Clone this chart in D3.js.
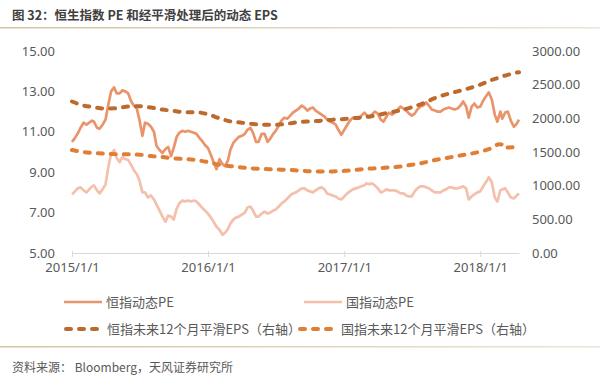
<!DOCTYPE html>
<html><head><meta charset="utf-8">
<script src="https://cdn.jsdelivr.net/npm/d3@7"></script>
<style>
body{margin:0;background:#fff;}
svg{display:block;font-family:"Noto Sans","Noto Sans CJK SC",sans-serif;}
</style></head>
<body><svg id="c" width="600" height="380"></svg>
<script>
// ---- data ----
const peDates = [
"2015-01-01","2015-01-09","2015-01-16","2015-01-24","2015-02-01","2015-02-09","2015-02-16","2015-02-24",
"2015-03-01","2015-03-09","2015-03-16","2015-03-24","2015-04-01","2015-04-09","2015-04-16","2015-04-24",
"2015-05-01","2015-05-09","2015-05-16","2015-05-24","2015-06-01","2015-06-09","2015-06-16","2015-06-24",
"2015-07-01","2015-07-09","2015-07-16","2015-07-24","2015-08-01","2015-08-09","2015-08-16","2015-08-24",
"2015-09-01","2015-09-09","2015-09-16","2015-09-24","2015-10-01","2015-10-09","2015-10-16","2015-10-24",
"2015-11-01","2015-11-09","2015-11-16","2015-11-24","2015-12-01","2015-12-09","2015-12-16","2015-12-24",
"2016-01-01","2016-01-09","2016-01-16","2016-01-24","2016-02-01","2016-02-09","2016-02-16","2016-02-24",
"2016-03-01","2016-03-09","2016-03-16","2016-03-24","2016-04-01","2016-04-09","2016-04-16","2016-04-24",
"2016-05-01","2016-05-09","2016-05-16","2016-05-24","2016-06-01","2016-06-09","2016-06-16","2016-06-24",
"2016-07-01","2016-07-09","2016-07-16","2016-07-24","2016-08-01","2016-08-09","2016-08-16","2016-08-24",
"2016-09-01","2016-09-09","2016-09-16","2016-09-24","2016-10-01","2016-10-09","2016-10-16","2016-10-24",
"2016-11-01","2016-11-09","2016-11-16","2016-11-24","2016-12-01","2016-12-09","2016-12-16","2016-12-24",
"2017-01-01","2017-01-09","2017-01-16","2017-01-24","2017-02-01","2017-02-09","2017-02-16","2017-02-24",
"2017-03-01","2017-03-09","2017-03-16","2017-03-24","2017-04-01","2017-04-09","2017-04-16","2017-04-24",
"2017-05-01","2017-05-09","2017-05-16","2017-05-24","2017-06-01","2017-06-09","2017-06-16","2017-06-24",
"2017-07-01","2017-07-09","2017-07-16","2017-07-24","2017-08-01","2017-08-09","2017-08-16","2017-08-24",
"2017-09-01","2017-09-09","2017-09-16","2017-09-24","2017-10-01","2017-10-09","2017-10-16","2017-10-24",
"2017-11-01","2017-11-09","2017-11-16","2017-11-24","2017-12-01","2017-12-09","2017-12-16","2017-12-24",
"2018-01-01","2018-01-09","2018-01-16","2018-01-24","2018-02-01","2018-02-09","2018-02-16","2018-02-24",
"2018-03-01","2018-03-09","2018-03-16","2018-03-24","2018-04-01","2018-04-09","2018-04-15"];
const hsiPE = [
10.5,10.7,10.9,11.2, 11.45,11.35,11.45,11.55, 11.5,11.2,11.15,11.35, 11.6,12.4,13.0,13.2,
12.9,12.9,13.05,13.0, 12.9,12.5,12.3,12.15, 11.6,10.8,11.45,11.4, 11.25,11.0,10.3,10.1,
9.95,10.15,10.25,9.8, 10.2,10.75,10.95,11.05, 11.0,11.05,11.0,10.95, 10.9,10.7,10.55,10.35,
10.2,9.85,9.5,9.15, 9.65,9.4,9.3,9.6, 10.1,10.45,10.6,10.75, 10.8,10.9,11.1,11.2,
10.95,10.5,10.5,10.9, 10.9,10.5,10.65,10.9, 11.05,11.3,11.55,11.7, 11.65,11.8,11.95,12.05,
12.15,12.3,12.2,12.05, 12.15,12.2,12.05,11.95, 11.85,11.75,11.6,11.5, 11.45,11.35,11.1,10.85,
11.1,11.35,11.55,11.7, 11.65,11.65,11.8,11.95, 11.85,11.7,11.85,12.0, 11.9,11.6,11.5,11.75,
11.95,11.85,11.95,12.1, 12.25,12.15,12.05,11.9, 11.8,11.9,12.1,12.25, 12.3,12.45,12.3,12.1,
12.05,12.0,12.0,12.1, 12.15,12.2,12.15,12.1, 12.15,12.3,12.5,12.25, 11.7,12.25,12.4,12.2,
12.25,12.55,12.75,12.95, 12.6,11.85,11.5,12.0, 11.65,11.95,12.0,11.55, 11.25,11.4,11.6];
const hsceiPE = [
7.9,8.05,8.2,8.25, 8.1,8.0,8.15,8.3, 8.35,8.1,7.95,8.15, 8.4,9.3,9.9,10.1,
9.7,9.5,9.75,9.65, 9.6,9.35,9.1,8.9, 8.6,8.0,8.0,7.75, 7.85,7.65,7.4,7.1,
6.8,6.55,6.85,6.8, 6.65,7.2,7.45,7.6, 7.55,7.6,7.55,7.6, 7.55,7.4,7.25,7.1,
6.95,6.75,6.55,6.3, 6.15,5.9,6.0,6.2, 6.45,6.65,6.75,6.8, 6.9,7.0,7.25,7.3,
7.1,6.8,6.8,6.95, 7.05,6.95,7.0,7.1, 7.15,7.3,7.45,7.55, 7.7,7.85,7.95,8.0,
8.1,8.2,8.2,8.1, 8.05,8.0,8.1,8.2, 8.25,8.15,7.95,7.9, 7.85,7.8,7.7,7.65,
7.8,7.95,8.05,8.15, 8.2,8.25,8.3,8.35, 8.45,8.4,8.45,8.35, 8.2,8.0,8.05,8.15,
8.1,8.1,8.1,8.05, 7.95,7.95,7.85,7.8, 7.8,8.05,8.2,8.3, 8.3,8.25,8.2,8.1,
8.0,8.0,8.0,8.1, 8.15,8.25,8.25,8.2, 8.2,8.25,8.3,8.2, 7.65,7.8,7.9,8.0,
8.05,8.3,8.5,8.75, 8.5,7.75,7.55,8.1, 8.15,8.2,8.0,7.75, 7.7,7.85,7.95];
const epsDates = [
"2015-01-01","2015-02-01","2015-03-01","2015-04-01","2015-05-01","2015-06-01","2015-07-01","2015-08-01",
"2015-09-01","2015-10-01","2015-11-01","2015-12-01","2016-01-01","2016-02-01","2016-03-01","2016-04-01",
"2016-05-01","2016-06-01","2016-07-01","2016-08-01","2016-09-01","2016-10-01","2016-11-01","2016-12-01",
"2017-01-01","2017-02-01","2017-03-01","2017-04-01","2017-05-01","2017-06-01","2017-07-01","2017-08-01",
"2017-09-01","2017-10-01","2017-11-01","2017-12-01","2018-01-01","2018-02-01","2018-02-20","2018-03-01",
"2018-03-05","2018-04-01","2018-04-15"];
const hsiEPS = [
2250,2190,2165,2145,2150,2175,2180,2160, 2130,2110,2090,2090,2060,2000,1955,1935,
1915,1905,1905,1920,1945,1955,1965,1980, 1990,2005,2020,2050,2085,2120,2165,2225,
2300,2355,2400,2445,2500,2570,2605,2625, 2630,2670,2685];
const hsceiEPS = [
1530,1500,1485,1475,1468,1465,1460,1440, 1425,1405,1395,1380,1350,1310,1290,1270,
1255,1248,1240,1235,1225,1215,1210,1212, 1220,1235,1250,1260,1270,1285,1310,1340,
1380,1410,1440,1470,1505,1560,1615,1612, 1565,1570,1570];
const leftTicks = [5,7,9,11,13,15];
const rightTicks = [0,500,1000,1500,2000,2500,3000];
const xTicks = ["2015-01-01","2016-01-01","2017-01-01","2018-01-01"];
const seriesNames = ["恒指动态PE","国指动态PE","恒指未来12个月平滑EPS（右轴）","国指未来12个月平滑EPS（右轴）"];
const titleText = "图 32：恒生指数 PE 和经平滑处理后的动态 EPS";
const sourceText = "资料来源： Bloomberg，天风证券研究所";

// ---- drawing ----
const parse = d3.timeParse("%Y-%m-%d");
const fmtTick = d3.timeFormat("%Y/%-m/%-d");
const svg = d3.select("#c");
const colors = ["#EA946C","#F4C0AC","#BC6A2E","#DF7E34"];

const x = d3.scaleTime().domain([parse("2015-01-01"), parse("2018-04-15")]).range([72, 519]);
const yL = d3.scaleLinear().domain([5,15]).range([253,51]);
const yR = d3.scaleLinear().domain([0,3000]).range([253,51]);

// title
svg.append("text").attr("x",12).attr("y",20).attr("font-size",12.5).attr("font-weight","bold")
  .attr("fill","#404040").attr("font-family","Noto Sans CJK SC").text(titleText);
const g1 = svg.append("defs").append("linearGradient").attr("id","lg");
g1.append("stop").attr("offset","0%").attr("stop-color","#d4c4a4");
g1.append("stop").attr("offset","100%").attr("stop-color","#ece4d4");
svg.append("rect").attr("x",0).attr("y",27).attr("width",600).attr("height",1.5).attr("fill","url(#lg)");
svg.append("rect").attr("x",0).attr("y",346).attr("width",600).attr("height",1.5).attr("fill","url(#lg)");
svg.append("text").attr("x",12).attr("y",372).attr("font-size",12).attr("fill","#595959")
  .attr("font-family","Noto Sans CJK SC").text(sourceText);

// axes
const xAxis = d3.axisBottom(x).tickValues(xTicks.map(parse)).tickFormat(fmtTick).tickSize(4).tickSizeOuter(0);
const gx = svg.append("g").attr("transform","translate(0,253)").call(xAxis);
gx.select(".domain").attr("stroke","#d9d9d9");
gx.selectAll(".tick line").attr("stroke","#d9d9d9").attr("y1",-2);
gx.selectAll(".tick text").attr("font-size",13).attr("fill","#595959").attr("dy","0.95em")
  .attr("font-family","Noto Sans");

const gl = svg.append("g").attr("transform","translate(55,0)")
  .call(d3.axisLeft(yL).tickValues(leftTicks).tickFormat(d3.format(".2f")).tickSize(0).tickPadding(0));
gl.select(".domain").remove();
gl.selectAll(".tick text").attr("font-size",13).attr("fill","#595959").attr("font-family","Noto Sans");

const gr = svg.append("g").attr("transform","translate(532,0)")
  .call(d3.axisRight(yR).tickValues(rightTicks).tickFormat(d3.format(".2f")).tickSize(0).tickPadding(0));
gr.select(".domain").remove();
gr.selectAll(".tick text").attr("font-size",13).attr("fill","#595959").attr("font-family","Noto Sans");

// lines
const pd = peDates.map(parse), ed = epsDates.map(parse);
const lineL = d3.line().x(d=>x(d[0])).y(d=>yL(d[1]));
const lineR = d3.line().x(d=>x(d[0])).y(d=>yR(d[1])).curve(d3.curveMonotoneX);
svg.append("path").datum(pd.map((d,i)=>[d,hsceiPE[i]])).attr("d",lineL)
  .attr("fill","none").attr("stroke",colors[1]).attr("stroke-width",2.7).attr("stroke-linejoin","round");
svg.append("path").datum(pd.map((d,i)=>[d,hsiPE[i]])).attr("d",lineL)
  .attr("fill","none").attr("stroke",colors[0]).attr("stroke-width",2.7).attr("stroke-linejoin","round");
svg.append("path").datum(ed.map((d,i)=>[d,hsceiEPS[i]])).attr("d",lineR)
  .attr("fill","none").attr("stroke",colors[3]).attr("stroke-width",4).attr("stroke-dasharray","5,8").attr("stroke-linecap","round");
svg.append("path").datum(ed.map((d,i)=>[d,hsiEPS[i]])).attr("d",lineR)
  .attr("fill","none").attr("stroke",colors[2]).attr("stroke-width",4).attr("stroke-dasharray","5,8").attr("stroke-linecap","round");

// legend
const leg = [
  {x:64, y:302, i:0, dash:false},
  {x:304, y:302, i:1, dash:false},
  {x:64, y:329, i:2, dash:true},
  {x:298, y:329, i:3, dash:true}
];
leg.forEach(l=>{
  const ln = svg.append("line").attr("x1",l.x).attr("x2",l.x+38).attr("y1",l.y).attr("y2",l.y)
    .attr("stroke",colors[l.i]).attr("stroke-width",l.dash?4:2.7);
  if(l.dash) ln.attr("stroke-dasharray","5,8").attr("stroke-linecap","round").attr("x1",l.x+2).attr("x2",l.x+38);
  svg.append("text").attr("x",l.x+(l.dash?43:42)).attr("y",l.y).attr("dy","0.35em").attr("font-size",13)
    .attr("fill","#595959").attr("font-family","Noto Sans CJK SC").text(seriesNames[l.i]);
});
</script></body></html>
